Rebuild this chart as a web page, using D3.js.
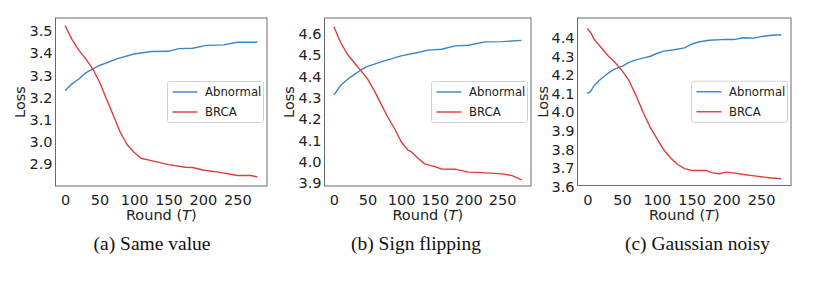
<!DOCTYPE html>
<html><head><meta charset="utf-8">
<script src="https://cdn.jsdelivr.net/npm/d3@7"></script>
<style>body{margin:0;background:#fff}svg{display:block}</style>
</head><body>
<script>
// ---------- DATA ----------
const xTicks = [0, 50, 100, 150, 200, 250];
const seriesNames = ["Abnormal", "BRCA"];
const captions = ["(a) Same value", "(b) Sign flipping", "(c) Gaussian noisy"];

const yTicksA = [2.9, 3.0, 3.1, 3.2, 3.3, 3.4, 3.5];
const yTicksB = [3.9, 4.0, 4.1, 4.2, 4.3, 4.4, 4.5, 4.6];
const yTicksC = [3.6, 3.7, 3.8, 3.9, 4.0, 4.1, 4.2, 4.3, 4.4];

// (a) Same value
const roundsA_Abn = [0, 10, 20, 30, 40, 50, 75, 100, 125, 150, 165, 185, 205, 230, 250, 279];
const abnormalA   = [3.229, 3.259, 3.281, 3.309, 3.327, 3.342, 3.372, 3.394, 3.405, 3.406, 3.418, 3.420, 3.433, 3.435, 3.447, 3.447];
const roundsA_BRCA = [0, 5, 10, 20, 30, 40, 50, 60, 70, 80, 90, 100, 110, 125, 150, 175, 185, 200, 225, 250, 270, 279];
const brcaA        = [3.522, 3.49, 3.459, 3.410, 3.372, 3.327, 3.266, 3.191, 3.116, 3.040, 2.984, 2.950, 2.923, 2.912, 2.894, 2.882, 2.881, 2.870, 2.859, 2.845, 2.845, 2.838];

// (b) Sign flipping
const roundsB_Abn = [0, 10, 20, 30, 40, 50, 75, 100, 125, 140, 160, 180, 200, 225, 250, 279];
const abnormalB   = [4.311, 4.355, 4.383, 4.406, 4.428, 4.445, 4.471, 4.494, 4.510, 4.521, 4.525, 4.541, 4.544, 4.560, 4.561, 4.567];
const roundsB_BRCA = [0, 10, 20, 30, 40, 50, 60, 70, 80, 90, 100, 110, 115, 125, 135, 150, 160, 180, 200, 220, 250, 265, 279];
const brcaB        = [4.631, 4.557, 4.502, 4.463, 4.425, 4.386, 4.331, 4.269, 4.207, 4.153, 4.091, 4.052, 4.044, 4.013, 3.987, 3.974, 3.963, 3.962, 3.948, 3.946, 3.940, 3.932, 3.912];

// (c) Gaussian noisy
const roundsC_Abn = [0, 5, 10, 20, 30, 40, 50, 60, 70, 80, 90, 100, 110, 125, 140, 150, 160, 175, 200, 210, 225, 240, 250, 265, 279];
const abnormalC   = [4.097, 4.109, 4.141, 4.177, 4.207, 4.230, 4.244, 4.265, 4.279, 4.288, 4.297, 4.313, 4.326, 4.333, 4.343, 4.363, 4.375, 4.384, 4.389, 4.388, 4.398, 4.396, 4.404, 4.411, 4.414];
const roundsC_BRCA = [0, 5, 10, 20, 30, 40, 50, 60, 70, 80, 90, 100, 110, 120, 130, 140, 150, 170, 180, 190, 200, 210, 225, 240, 250, 265, 279];
const brcaC        = [4.448, 4.425, 4.389, 4.345, 4.301, 4.265, 4.221, 4.168, 4.088, 4.000, 3.920, 3.857, 3.795, 3.751, 3.716, 3.694, 3.684, 3.684, 3.671, 3.666, 3.675, 3.671, 3.662, 3.655, 3.650, 3.643, 3.639];

// ---------- LAYOUT ----------
const W = 813, H = 283;
const colors = ["#3a87c4", "#dd3d3d"];
const panels = [
  {l: 55.5, r: 267, t: 18, b: 186, ydom: [2.7975, 3.5565], yTicks: yTicksA,
   data: [[roundsA_Abn, abnormalA], [roundsA_BRCA, brcaA]], capX: 152, ylabX: 20},
  {l: 324.5, r: 531, t: 18, b: 186, ydom: [3.883, 4.672], yTicks: yTicksB,
   data: [[roundsB_Abn, abnormalB], [roundsB_BRCA, brcaB]], capX: 416, ylabX: 288.5},
  {l: 577.5, r: 791, t: 18, b: 185.5, ydom: [3.603, 4.504], yTicks: yTicksC,
   data: [[roundsC_Abn, abnormalC], [roundsC_BRCA, brcaC]], capX: 697.5, ylabX: 543}
];

const svg = d3.select("body").append("svg").attr("width", W).attr("height", H);
const sans = "DejaVu Sans, sans-serif";

panels.forEach((p, i) => {
  const x = d3.scaleLinear().domain([-14, 293]).range([p.l, p.r]);
  const y = d3.scaleLinear().domain(p.ydom).range([p.b, p.t]);
  const g = svg.append("g");

  // y label
  g.append("text").attr("transform", `translate(${p.ylabX},${(p.t + p.b) / 2}) rotate(-90)`)
    .attr("text-anchor", "middle").attr("dy", "0.35em")
    .style("font-family", sans).style("font-size", "14.5px").attr("fill", "#222").text("Loss");

  // axes
  const xa = g.append("g").attr("transform", `translate(0,${p.b})`)
    .call(d3.axisBottom(x).tickValues(xTicks).tickSize(0).tickFormat(d3.format("d")));
  xa.select(".domain").remove();
  xa.selectAll("text").attr("y", 19).attr("dy", null)
    .style("font-family", sans).style("font-size", "14.5px").attr("fill", "#222");

  const ya = g.append("g").attr("transform", `translate(${p.l},0)`)
    .call(d3.axisLeft(y).tickValues(p.yTicks).tickSize(0).tickPadding(3).tickFormat(d3.format(".1f")));
  ya.select(".domain").remove();
  ya.selectAll("text").attr("dy", "0.36em")
    .style("font-family", sans).style("font-size", "14.5px").attr("fill", "#222");

  // lines
  const line = d3.line().x(d => x(d[0])).y(d => y(d[1]));
  p.data.forEach((s, k) => {
    const pts = s[0].map((t, j) => [t, s[1][j]]);
    g.append("path").datum(pts).attr("d", line).attr("fill", "none")
      .attr("stroke", colors[k]).attr("stroke-width", 1.4).attr("stroke-linejoin", "round");
  });

  // frame
  g.append("rect").attr("x", p.l).attr("y", p.t).attr("width", p.r - p.l).attr("height", p.b - p.t)
    .attr("fill", "none").attr("stroke", "#6a6a6a").attr("stroke-width", 1);

  // legend
  const bw = 96, bh = 41;
  const bx = p.r - 3.5 - bw, cy = (p.t + p.b) / 2;
  const lg = g.append("g");
  lg.append("rect").attr("x", bx).attr("y", cy - bh / 2).attr("width", bw).attr("height", bh)
    .attr("rx", 2).attr("fill", "#fff").attr("fill-opacity", 0.85).attr("stroke", "#d4d4d4");
  seriesNames.forEach((n, k) => {
    const yy = cy - 10 + k * 20;
    lg.append("line").attr("x1", bx + 5).attr("x2", bx + 30).attr("y1", yy).attr("y2", yy)
      .attr("stroke", colors[k]).attr("stroke-width", 1.4);
    lg.append("text").attr("x", bx + 37.5).attr("y", yy).attr("dy", "0.36em")
      .style("font-family", sans).style("font-size", "11.7px").attr("fill", "#222").text(n);
  });

  // x label
  const xl = g.append("text").attr("x", (p.l + p.r) / 2).attr("y", 219.5).attr("text-anchor", "middle")
    .style("font-family", sans).style("font-size", "14.5px").attr("fill", "#222");
  xl.append("tspan").text("Round (");
  xl.append("tspan").style("font-style", "italic").text("T");
  xl.append("tspan").text(")");

  // caption
  g.append("text").attr("x", p.capX).attr("y", 250).attr("text-anchor", "middle")
    .style("font-family", "Liberation Serif, Times New Roman, serif").style("font-size", "19.5px")
    .attr("fill", "#111").text(captions[i]);
});
</script>
</body></html>
